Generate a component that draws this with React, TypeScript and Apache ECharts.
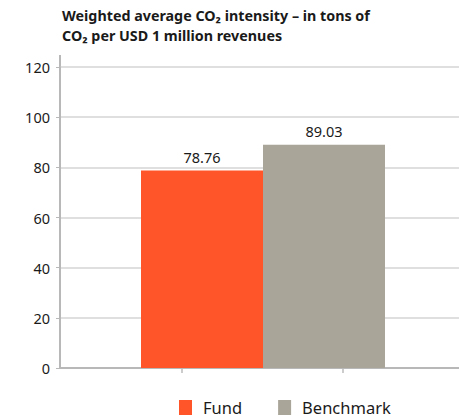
import React, { useEffect, useRef } from "react";
import * as echarts from "echarts";

const categories = [""];
const seriesNames = ["Fund", "Benchmark"];
const fundValues = [78.76];
const benchmarkValues = [89.03];
const yTicks = [0, 20, 40, 60, 80, 100, 120];
const titleLines = [
  "Weighted average CO\u2082 intensity \u2013 in tons of",
  "CO\u2082 per USD 1 million revenues",
];

const FONT = "'Noto Sans', sans-serif";

export default function App() {
  const ref = useRef<HTMLDivElement>(null);
  useEffect(() => {
    document.body.style.margin = "0";
    if (!ref.current) return;
    const chart = echarts.init(ref.current, undefined, { renderer: "svg" });
    chart.setOption({
      animation: false,
      textStyle: { fontFamily: FONT },
      title: {
        text: titleLines.join("\n"),
        left: 62,
        top: 5,
        padding: 0,
        textStyle: {
          fontFamily: FONT,
          fontSize: 14.3,
          fontWeight: "bold",
          color: "#1a1a1a",
          lineHeight: 20,
        },
      },
      legend: {
        data: seriesNames,
        left: 179,
        top: 399,
        padding: 0,
        itemWidth: 13,
        itemHeight: 15,
        itemGap: 36,
        icon: "rect",
        textStyle: { fontSize: 16.5, color: "#1a1a1a", padding: [0, 0, 0, 6], lineHeight: 14 },
      },
      grid: { left: 60, right: -7, top: 67, bottom: 51, outerBoundsMode: "none", containLabel: false },
      xAxis: {
        type: "category",
        data: categories,
        axisLine: { lineStyle: { color: "#b8b8b8", width: 2 } },
        axisTick: { show: false },
        axisLabel: { show: false },
      },
      yAxis: {
        type: "value",
        min: yTicks[0],
        max: yTicks[yTicks.length - 1],
        interval: 20,
        axisLine: { show: true, lineStyle: { color: "#b8b8b8", width: 2 } },
        axisTick: { show: true, length: 4, lineStyle: { color: "#b8b8b8", width: 1 } },
        axisLabel: { fontSize: 14.5, color: "#1a1a1a", margin: 10 },
        splitLine: { lineStyle: { color: "#d4d4d4", width: 1.5 } },
      },
      series: [
        {
          name: seriesNames[0],
          type: "bar",
          data: fundValues,
          barWidth: 122,
          barGap: "0%",
          itemStyle: { color: "#FF5529" },
          label: {
            show: true,
            position: "top",
            distance: 6,
            fontSize: 14.5,
            color: "#1a1a1a",
            formatter: (p: any) => p.value.toFixed(2),
          },
        },
        {
          name: seriesNames[1],
          type: "bar",
          data: benchmarkValues,
          barWidth: 122,
          barGap: "0%",
          itemStyle: { color: "#A9A599" },
          label: {
            show: true,
            position: "top",
            distance: 6,
            fontSize: 14.5,
            color: "#1a1a1a",
            formatter: (p: any) => p.value.toFixed(2),
          },
        },
      ],
      graphic: [
        {
          type: "line",
          shape: { x1: 60, y1: 55, x2: 60, y2: 67 },
          style: { stroke: "#b8b8b8", lineWidth: 2 },
        },
        {
          type: "line",
          shape: { x1: 182, y1: 368, x2: 182, y2: 373 },
          style: { stroke: "#999", lineWidth: 1 },
        },
        {
          type: "line",
          shape: { x1: 343, y1: 368, x2: 343, y2: 373 },
          style: { stroke: "#999", lineWidth: 1 },
        },
      ],
    });
    return () => chart.dispose();
  }, []);
  return <div ref={ref} style={{ width: 459, height: 419 }} />;
}
